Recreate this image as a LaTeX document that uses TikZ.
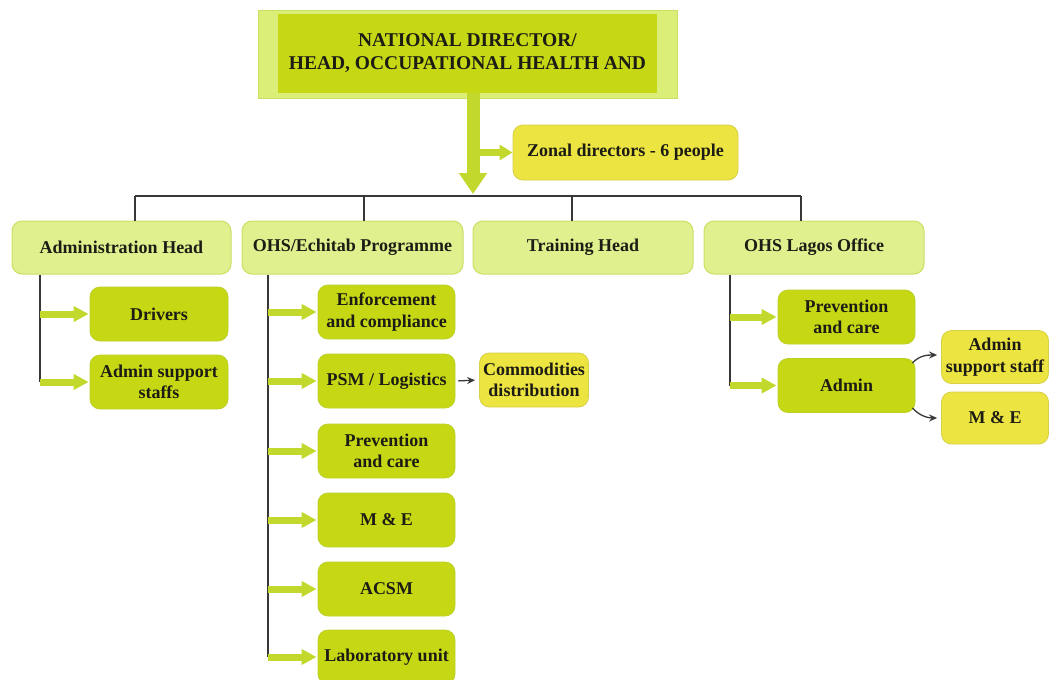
\documentclass[tikz,border=0pt]{standalone}
\usepackage{fontspec}
\setmainfont{Liberation Serif}
\usetikzlibrary{arrows.meta,calc}
\definecolor{dg}{RGB}{198,216,20}
\definecolor{dgb}{RGB}{188,208,40}
\definecolor{lg}{RGB}{224,240,142}
\definecolor{lgb}{RGB}{200,224,100}
\definecolor{yl}{RGB}{236,228,64}
\definecolor{ylb}{RGB}{214,208,70}
\definecolor{topout}{RGB}{218,238,120}
\definecolor{garr}{RGB}{194,216,44}
\definecolor{txt}{RGB}{28,28,20}
\definecolor{ln}{RGB}{55,55,55}
\tikzset{
  every node/.style={font=\bfseries\fontsize{18}{21.5}\selectfont, text=txt, align=center, inner sep=2pt},
  headbox/.style={fill=lg, draw=lgb, line width=1pt, rounded corners=10pt, minimum height=53pt},
  subbox/.style={fill=dg, draw=dgb, line width=0.8pt, rounded corners=10pt, minimum width=137pt, minimum height=54pt},
  ylbox/.style={fill=yl, draw=ylb, line width=0.8pt, rounded corners=10pt},
  bus/.style={draw=ln, line width=1.3pt},
  garrow/.style={draw=garr, line width=7pt, -{Triangle[length=15pt,width=15pt]}, shorten >=1pt},
  bigarrow/.style={draw=garr, line width=13pt, -{Triangle[length=21pt,width=27pt]}},
  blkarrow/.style={draw=ln, line width=1.3pt, -{Stealth[length=8pt,width=7pt]}},
}
\begin{document}
\begin{tikzpicture}[x=1pt,y=-1pt]
\useasboundingbox (0,0) rectangle (1050,680);
% top box
\node[fill=topout, draw=lgb, line width=0.6pt, minimum width=419pt, minimum height=88pt] (topo) at (467.5,54) {};
\node[fill=dg, minimum width=379pt, minimum height=79pt, font=\bfseries\fontsize{19.5}{23}\selectfont] (top) at (467.5,53.5) {NATIONAL DIRECTOR/\\HEAD, OCCUPATIONAL HEALTH AND};
% zonal
\node[ylbox, minimum width=225pt, minimum height=55pt] (zonal) at (625.5,152.5) {Zonal directors - 6 people};
% hub and bus
\coordinate (hub) at (473,194);
\coordinate (d1) at (135,196);
\coordinate (d2) at (364,196);
\coordinate (d3) at (572,196);
\coordinate (d4) at (801,196);
% level 2
\node[headbox, minimum width=219pt] (adm) at (121.5,247.5) {Administration Head};
\node[headbox, minimum width=221pt] (ohs) at (352.5,247.5) {OHS/Echitab Programme};
\node[headbox, minimum width=220pt] (trn) at (583,247.5) {Training Head};
\node[headbox, minimum width=220pt] (lag) at (814,247.5) {OHS Lagos Office};
% admin subs
\node[subbox, minimum width=138pt] (drv) at (159,314) {Drivers};
\node[subbox, minimum width=138pt] (ass) at (159,382) {Admin support\\staffs};
% ohs subs
\node[subbox] (enf) at (386.5,312) {Enforcement\\and compliance};
\node[subbox] (psm) at (386.5,381) {PSM / Logistics};
\node[subbox] (prv) at (386.5,451) {Prevention\\and care};
\node[subbox] (mne) at (386.5,520) {M \& E};
\node[subbox] (acs) at (386.5,589) {ACSM};
\node[subbox] (lab) at (386.5,657) {Laboratory unit};
\node[ylbox, minimum width=109pt, minimum height=54pt] (com) at (534,380) {Commodities\\distribution};
% lagos subs
\node[subbox] (lprv) at (846.5,317) {Prevention\\and care};
\node[subbox] (ladm) at (846.5,385.5) {Admin};
\node[ylbox, minimum width=107pt, minimum height=53pt] (lass) at (995,357) {Admin\\support staff};
\node[ylbox, minimum width=107pt, minimum height=52pt] (lme) at (995,418) {M \& E};
% main arrows
\draw[bigarrow] (top.south -| hub) -- (hub);
\draw[draw=garr, line width=7pt, -{Triangle[length=13pt,width=15pt]}] (hub |- zonal.west) -- (zonal.west);
% bus
\draw[bus] (d1) -- (d4);
\draw[bus] (d1) -- (d1 |- adm.north);
\draw[bus] (d2) -- (d2 |- ohs.north);
\draw[bus] (d3) -- (d3 |- trn.north);
\draw[bus] (d4) -- (d4 |- lag.north);
% admin column
\coordinate (ca) at (40,382);
\draw[bus] (ca |- adm.south) -- (ca);
\draw[garrow] (ca |- drv.west) -- (drv.west);
\draw[garrow] (ca) -- (ass.west);
% ohs column
\coordinate (co) at (268,657);
\draw[bus] (co |- ohs.south) -- (co);
\foreach \n in {enf,psm,prv,mne,acs,lab} {
  \draw[garrow] (co |- \n.west) -- (\n.west);
}
\draw[blkarrow, shorten <=3pt, shorten >=4pt] (psm.east) -- (com.west);
% lagos column
\coordinate (cl) at (730,385.5);
\draw[bus] (cl |- lag.south) -- (cl);
\draw[garrow] (cl |- lprv.west) -- (lprv.west);
\draw[garrow] (cl) -- (ladm.west);
\draw[blkarrow] ([shift={(-3,5)}]ladm.north east) .. controls +(7,-8) and +(-9,0) .. ([shift={(-4,-2)}]lass.west);
\draw[blkarrow] ([shift={(-3,-5)}]ladm.south east) .. controls +(7,8) and +(-9,0) .. ([xshift=-4pt]lme.west);
\end{tikzpicture}
\end{document}
